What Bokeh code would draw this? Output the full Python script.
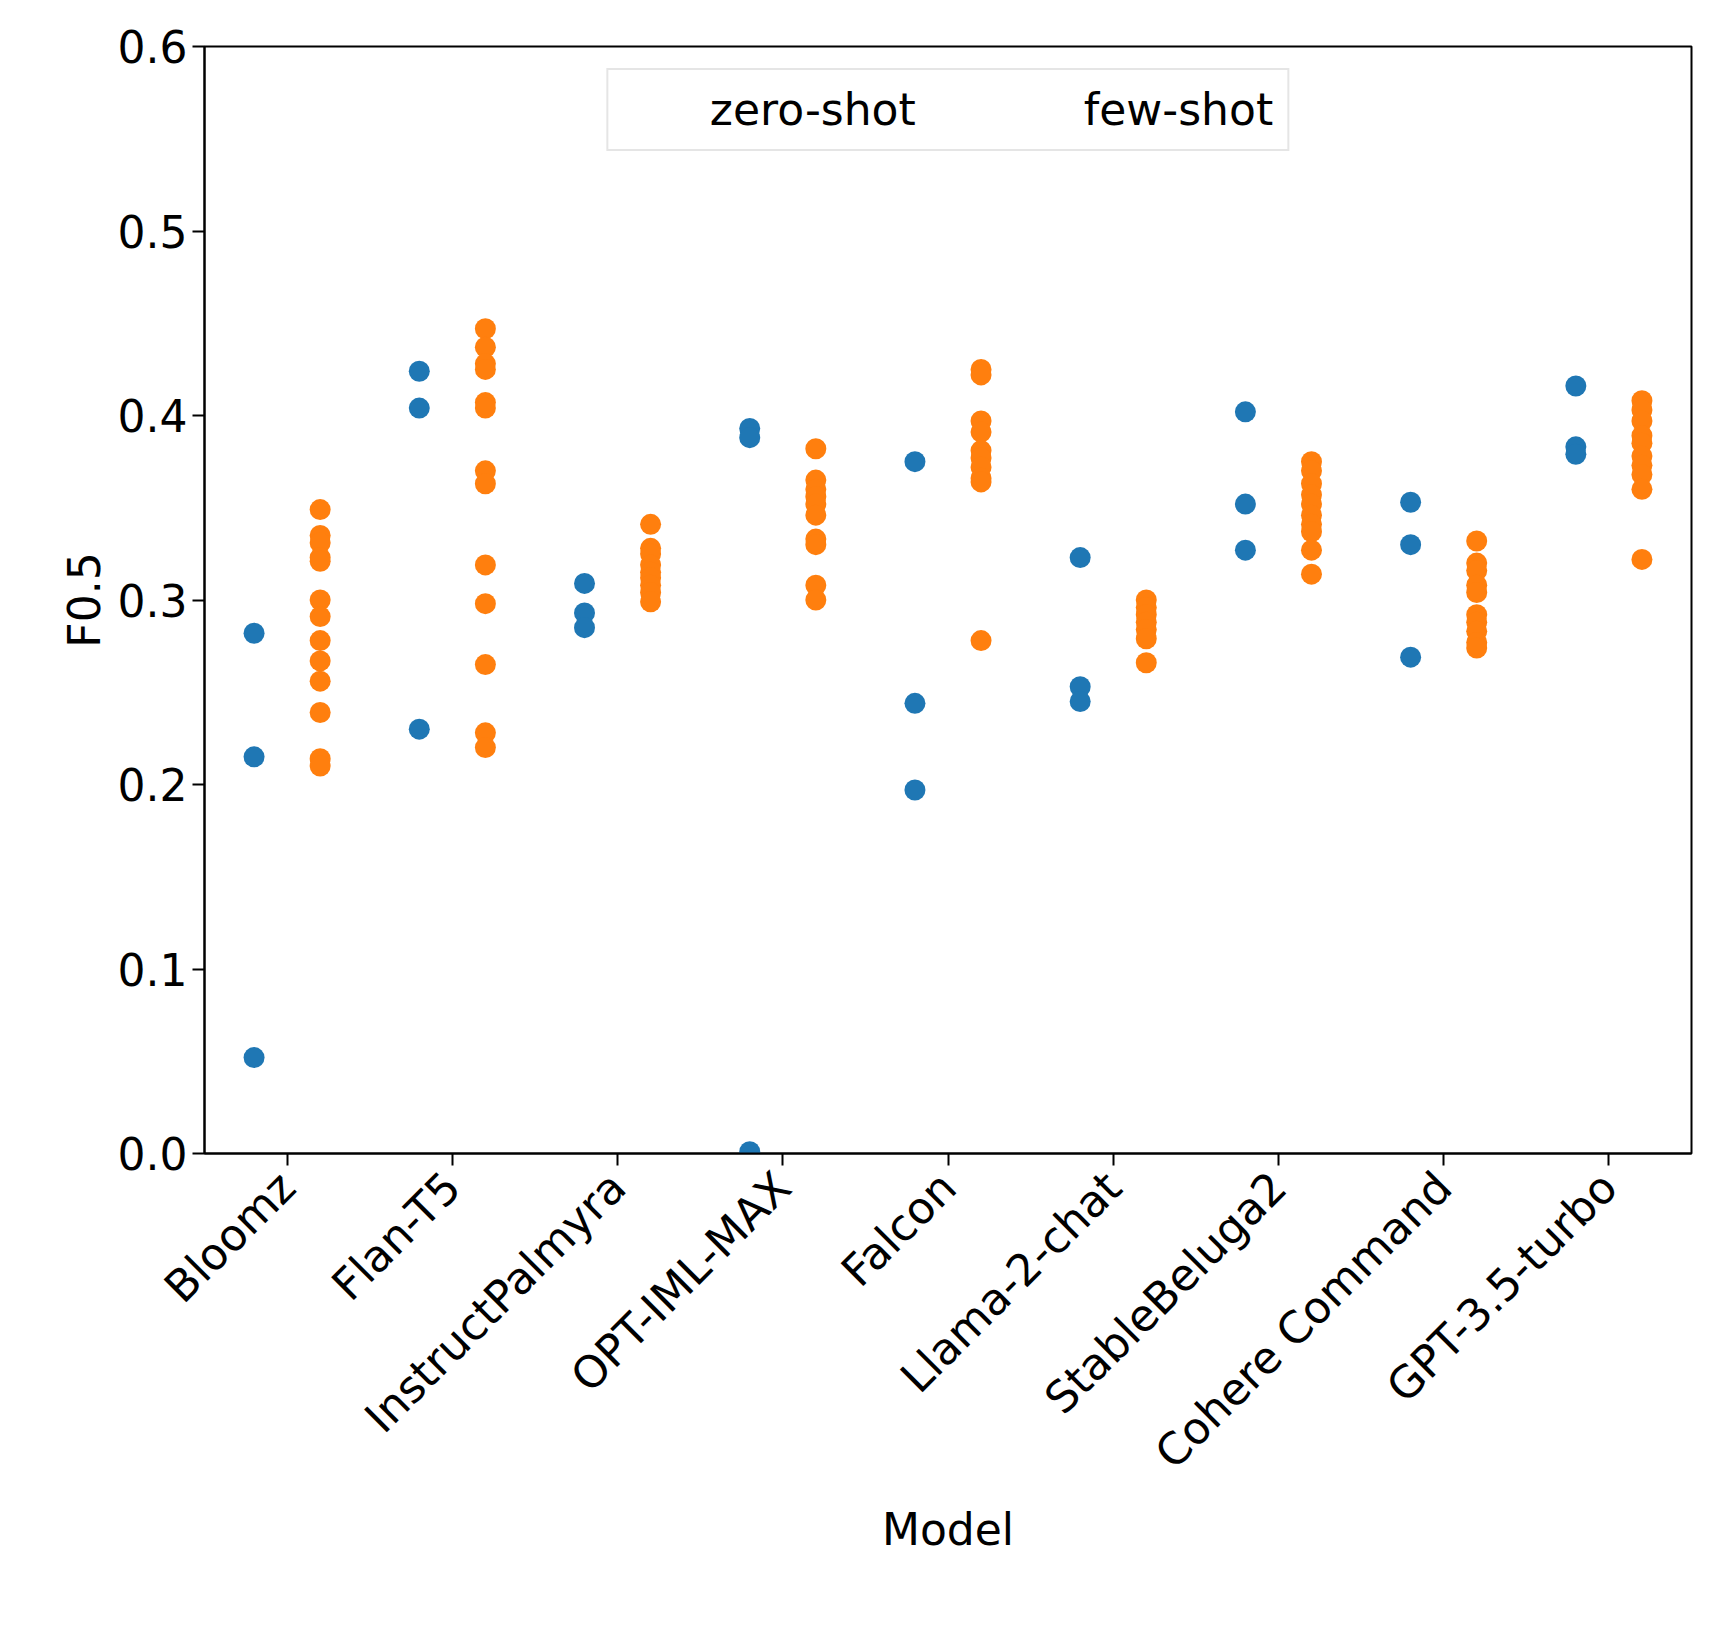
import math
from bokeh.plotting import figure
from bokeh.models import ColumnDataSource, FixedTicker, Legend, LegendItem
from bokeh.embed import file_html
from bokeh.resources import INLINE

models = ["Bloomz", "Flan-T5", "InstructPalmyra", "OPT-IML-MAX", "Falcon",
          "Llama-2-chat", "StableBeluga2", "Cohere Command", "GPT-3.5-turbo"]

zero_shot = [
    [0.282, 0.215, 0.052],
    [0.424, 0.404, 0.230],
    [0.309, 0.293, 0.285],
    [0.393, 0.388, 0.001],
    [0.375, 0.244, 0.197],
    [0.323, 0.253, 0.245],
    [0.402, 0.352, 0.327],
    [0.353, 0.330, 0.269],
    [0.416, 0.383, 0.379],
]

few_shot = [
    [0.349, 0.335, 0.331, 0.323, 0.321, 0.300, 0.291, 0.278, 0.267, 0.256, 0.239, 0.214, 0.210],
    [0.447, 0.437, 0.428, 0.425, 0.407, 0.404, 0.370, 0.363, 0.319, 0.298, 0.265, 0.228, 0.220],
    [0.341, 0.328, 0.325, 0.319, 0.315, 0.312, 0.308, 0.304, 0.299],
    [0.382, 0.365, 0.360, 0.356, 0.352, 0.346, 0.333, 0.330, 0.308, 0.300],
    [0.425, 0.422, 0.397, 0.391, 0.381, 0.377, 0.372, 0.366, 0.364, 0.278],
    [0.300, 0.296, 0.292, 0.288, 0.284, 0.279, 0.266],
    [0.375, 0.370, 0.363, 0.357, 0.352, 0.346, 0.341, 0.337, 0.327, 0.314],
    [0.332, 0.320, 0.316, 0.308, 0.304, 0.292, 0.288, 0.283, 0.277, 0.274],
    [0.408, 0.403, 0.397, 0.389, 0.385, 0.378, 0.373, 0.368, 0.360, 0.322],
]

offset = 0.2
fs = "44px"


def flatten(groups, shift):
    xs, ys = [], []
    for i, vals in enumerate(groups):
        for v in vals:
            xs.append(i + shift)
            ys.append(v)
    return ColumnDataSource(dict(x=xs, y=ys))


p = figure(width=1705, height=1618, x_range=(-0.5, 8.5), y_range=(0, 0.6),
           output_backend="svg", toolbar_location=None,
           min_border_left=204, min_border_right=14,
           min_border_top=46, min_border_bottom=465)

p.scatter("x", "y", source=flatten(zero_shot, -offset), size=21,
          color="#1f77b4", line_color=None)
p.scatter("x", "y", source=flatten(few_shot, offset), size=21,
          color="#ff7f0e", line_color=None)

# legend-only renderers with larger markers
empty = dict(x=[], y=[])
l0 = p.scatter("x", "y", source=ColumnDataSource(empty), size=26,
               color="#1f77b4", line_color=None)
l1 = p.scatter("x", "y", source=ColumnDataSource(empty), size=26,
               color="#ff7f0e", line_color=None)

p.xgrid.visible = False
p.ygrid.visible = False
p.outline_line_color = "black"
p.outline_line_width = 2

p.xaxis.ticker = FixedTicker(ticks=list(range(len(models))))
p.xaxis.major_label_overrides = {i: m for i, m in enumerate(models)}
p.xaxis.major_label_orientation = math.pi / 4
p.xaxis.major_label_standoff = 14
p.yaxis.ticker = FixedTicker(ticks=[0, 0.1, 0.2, 0.3, 0.4, 0.5, 0.6])
p.yaxis.formatter.use_scientific = False
p.yaxis.major_label_overrides = {0: "0.0", 0.6: "0.6"}

for ax in (p.xaxis, p.yaxis):
    ax.major_label_text_font_size = fs
    ax.major_label_text_font = "DejaVu Sans"
    ax.major_label_text_color = "black"
    ax.axis_label_text_font_size = fs
    ax.axis_label_text_font = "DejaVu Sans"
    ax.axis_label_text_font_style = "normal"
    ax.axis_label_text_color = "black"
    ax.major_tick_line_width = 2
    ax.major_tick_out = 12
    ax.major_tick_in = 0
    ax.minor_tick_line_color = None
    ax.axis_line_width = 2
p.xaxis.axis_label = "Model"
p.yaxis.axis_label = "F0.5"

legend = Legend(items=[LegendItem(label="zero-shot", renderers=[l0]),
                       LegendItem(label="few-shot", renderers=[l1])],
                location="top_center", orientation="horizontal",
                label_text_font_size=fs, label_text_font="DejaVu Sans",
                label_text_color="black",
                glyph_width=44, glyph_height=44, spacing=80, padding=14,
                border_line_color="#cccccc", border_line_width=2,
                margin=22, label_standoff=44)
p.add_layout(legend)

open("out.html", "w").write(file_html(p, INLINE))
